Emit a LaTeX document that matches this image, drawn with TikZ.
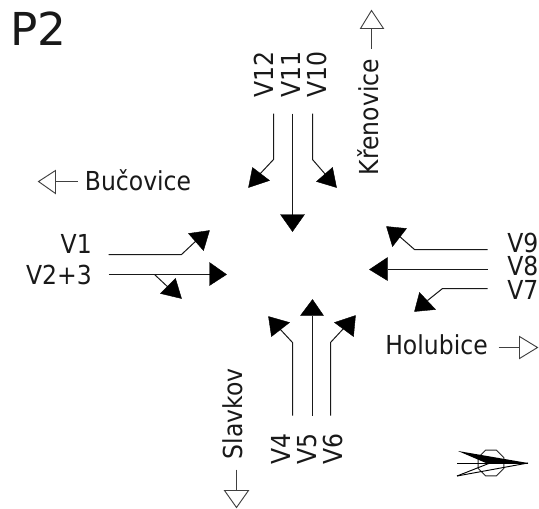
\documentclass[tikz,border=0pt]{standalone}
\usepackage{fontspec}
\setmainfont{DejaVu Sans}
\newfontfamily\lblfont[FakeStretch=0.9]{DejaVu Sans}
\tikzset{
  lane/.style={draw=black!90,line width=0.75pt},
  solidhead/.style={fill=black,draw=black,line width=0.3pt,line join=miter},
  openarrow/.style={draw=black!75,line width=0.7pt,line join=miter},
  lbl/.style={inner sep=0pt,font=\lblfont\fontsize{19.6}{22}\selectfont,text=black!90},
  vlbl/.style={lbl,rotate=90}
}
\begin{document}
\begin{tikzpicture}[x=0.75pt,y=-0.75pt]
\useasboundingbox (0,0) rectangle (539,508);
\fill[white] (0,0) rectangle (539,508);
% title
\node[inner sep=0pt,font=\fontsize{34}{38}\selectfont,text=black!90] (title) at (38.5,29) {P2};
% road labels
\node[lbl] (buc) at (138,180) {Bučovice};
\node[lbl] (hol) at (436.5,345) {Holubice};
\node[vlbl] (kre) at (368,117) {Křenovice};
\node[vlbl] (sla) at (233,414) {Slavkov};
% lane labels
\node[lbl,anchor=east] (v1) at (92,244) {V1};
\node[lbl,anchor=east] (v23) at (92,275) {V2+3};
\node[lbl,anchor=west] (v9) at (507,243) {V9};
\node[lbl,anchor=west] (v8) at (507,266) {V8};
\node[lbl,anchor=west] (v7) at (507,290) {V7};
\node[vlbl,anchor=west] (v12) at (264,98) {V12};
\node[vlbl,anchor=west] (v11) at (291,98) {V11};
\node[vlbl,anchor=west] (v10) at (317,98) {V10};
\node[vlbl,anchor=east] (v4) at (281,433) {V4};
\node[vlbl,anchor=east] (v5) at (307,433) {V5};
\node[vlbl,anchor=east] (v6) at (333,433) {V6};
\begin{scope}[shift={(0.5,0.5)}]
% west approach
\draw[lane] (108,254) -- (181,254) -- (197,239);
\fill[solidhead] (188,233) -- (209,230) -- (203,250) -- cycle;
\draw[lane] (108,274) -- (209,274);
\fill[solidhead] (209,262) -- (226,274) -- (209,285) -- cycle;
\draw[lane] (154,274) -- (169,288);
\fill[solidhead] (160,293) -- (181,298) -- (175,278) -- cycle;
% north approach
\draw[lane] (273,113) -- (273,159) -- (258,175);
\fill[solidhead] (252,167) -- (248,187) -- (269,180) -- cycle;
\draw[lane] (292,113) -- (292,214);
\fill[solidhead] (280,214) -- (292,231) -- (304,214) -- cycle;
\draw[lane] (312,113) -- (312,159) -- (325,174);
\fill[solidhead] (316,181) -- (336,187) -- (332,167) -- cycle;
% east approach
\draw[lane] (487,249) -- (414,249) -- (398,235);
\fill[solidhead] (386,226) -- (406,228) -- (392,246) -- cycle;
\draw[lane] (487,269) -- (387,269);
\fill[solidhead] (387,257) -- (369,269) -- (387,280) -- cycle;
\draw[lane] (487,288) -- (442,288) -- (427,300);
\fill[solidhead] (419,292) -- (414,311) -- (435,309) -- cycle;
% south approach
\draw[lane] (292,415) -- (292,342) -- (279,328);
\fill[solidhead] (268,316) -- (289,322) -- (271,336) -- cycle;
\draw[lane] (312,415) -- (312,315);
\fill[solidhead] (300,315) -- (312,299) -- (323,315) -- cycle;
\draw[lane] (330,415) -- (330,342) -- (343,328);
\fill[solidhead] (334,322) -- (355,315) -- (353,336) -- cycle;
% direction arrows
\draw[openarrow] (77,181) -- (55,181);
\draw[openarrow] (55,170) -- (38,181) -- (55,193) -- cycle;
\draw[openarrow] (371,48) -- (371,28);
\draw[openarrow] (360,28) -- (371,10) -- (383,28) -- cycle;
\draw[openarrow] (498,347) -- (519,347);
\draw[openarrow] (519,336) -- (537,347) -- (519,358) -- cycle;
\draw[openarrow] (236,469) -- (236,490);
\draw[openarrow] (224,490) -- (236,507) -- (248,490) -- cycle;
\end{scope}
% north sign
\draw[black!85,line width=0.7pt] (491,463) +(22.5:14) -- +(67.5:14) -- +(112.5:14) -- +(157.5:14) -- +(202.5:14) -- +(247.5:14) -- +(292.5:14) -- +(337.5:14) -- cycle;
\fill[black] (458,451) -- (528,463) -- (486,463) -- cycle;
\draw[black,line width=0.7pt] (457,463) -- (528,463);
\draw[black,line width=0.7pt] (457,476) -- (490,463);
\draw[black,line width=0.7pt] (457,476) -- (528,463);
\end{tikzpicture}
\end{document}
